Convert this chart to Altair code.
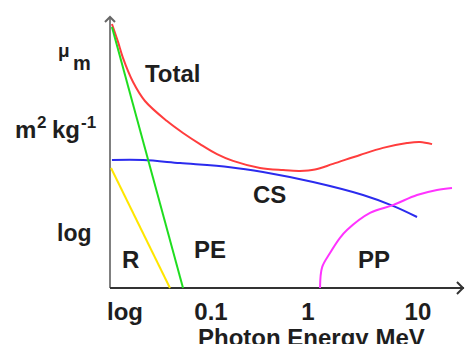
import altair as alt
import pandas as pd

# x: log10(photon energy / MeV); y: relative (log) mass attenuation, arbitrary units
total_x = [-1.981, -1.922, -1.874, -1.776, -1.660, -1.446, -1.290, -1.125, -0.960, -0.804,
           -0.542, -0.318, -0.153, -0.007, 0.168, 0.431, 0.654, 0.888, 1.014, 1.131]
total_y = [97.4, 90.8, 84.9, 76.0, 69.0, 61.6, 57.2, 53.1, 49.4, 46.9,
           44.3, 43.5, 43.2, 43.7, 45.8, 49.1, 51.7, 53.5, 53.9, 53.1]
cs_x = [-1.981, -1.679, -1.319, -0.833, -0.513, -0.026, 0.460, 0.751, 0.985]
cs_y = [47.2, 47.2, 46.1, 44.6, 42.8, 39.1, 34.3, 30.3, 26.2]
pe_x = [-1.981, -1.290]
pe_y = [96.3, 0.0]
r_x = [-1.990, -1.417]
r_y = [44.3, 0.0]
pp_x = [0.042, 0.0625, 0.139, 0.236, 0.304, 0.528, 0.751, 0.985, 1.179, 1.325]
pp_y = [0.0, 7.7, 12.9, 18.5, 21.4, 27.7, 30.6, 34.3, 36.2, 36.9]

series_names = ["Total", "CS", "PE", "R", "PP"]
series_colors = ["#ff3d3d", "#2b2bee", "#1fdd1f", "#ffe600", "#ff33ff"]

# curve labels
curve_labels = ["Total", "CS", "R", "PE", "PP"]
curve_label_x = [-1.660, -0.610, -1.883, -1.183, 0.411]
curve_label_y = [76.0, 31.4, 7.4, 11.1, 7.4]

# x tick labels
tick_labels = ["log", "0.1", "1", "10"]
tick_x = [-1.854, -1.018, -0.075, 0.994]
tick_y = [-11.8, -11.8, -11.8, -11.8]

# y axis label pieces (text, x, y, font size)
ylab_text = ["\u03bc", "m", "m", "2", "kg", "-1", "log"]
ylab_x = [-2.506, -2.360, -2.924, -2.710, -2.564, -2.282, -2.515]
ylab_y = [85.2, 80.4, 55.4, 59.0, 55.4, 59.0, 17.3]
ylab_size = [19, 20, 24, 17, 24, 17, 23]

x_title = "Photon Energy MeV"
x_title_pos = (-1.144, -21.4)

x_max = -2 + 354 / 102.857

rows = []
for name, xs, ys in [("Total", total_x, total_y), ("CS", cs_x, cs_y),
                     ("PE", pe_x, pe_y), ("R", r_x, r_y), ("PP", pp_x, pp_y)]:
    for i, (a, b) in enumerate(zip(xs, ys)):
        rows.append({"series": name, "x": a, "y": b, "i": i})
curves = pd.DataFrame(rows)

xs = alt.Scale(domain=[-2, x_max], nice=False, zero=False)
ys = alt.Scale(domain=[0, 100], nice=False, zero=False)
X = lambda f: alt.X(f, type="quantitative", scale=xs, axis=None)
Y = lambda f: alt.Y(f, type="quantitative", scale=ys, axis=None)

lines = alt.Chart(curves).mark_line(strokeWidth=2, interpolate="catmull-rom").encode(
    x=X("x"), y=Y("y"),
    color=alt.Color("series:N", scale=alt.Scale(domain=series_names, range=series_colors), legend=None),
    order="i:Q",
)

axes_df = pd.DataFrame({"x": [-2, -2], "x2": [-2, x_max], "y": [0, 0], "y2": [100, 0],
                        "c": ["#808080", "#333333"]})
axis_rules = alt.Chart(axes_df).mark_rule(strokeWidth=2).encode(
    x=X("x"), x2="x2", y=Y("y"), y2="y2", color=alt.Color("c:N", scale=None))

arrow_up = alt.Chart(pd.DataFrame({"x": [-2], "y": [100]})).mark_point(
    shape="M -1 1 L 0 0 L 1 1", size=100, filled=False, stroke="#666666", strokeWidth=2, opacity=1
).encode(x=X("x"), y=Y("y"))
arrow_right = alt.Chart(pd.DataFrame({"x": [x_max - 0.01], "y": [0]})).mark_point(
    shape="M -1 -1 L 0 0 L -1 1", size=144, filled=False, stroke="#333333", strokeWidth=2, opacity=1
).encode(x=X("x"), y=Y("y"))

font = dict(font="Liberation Sans", fontWeight="bold", color="#1e1e1e")

clabels = alt.Chart(pd.DataFrame({"t": curve_labels, "x": curve_label_x, "y": curve_label_y})).mark_text(
    align="left", baseline="alphabetic", fontSize=24, **font
).encode(x=X("x"), y=Y("y"), text="t:N")

ticks = alt.Chart(pd.DataFrame({"t": tick_labels, "x": tick_x, "y": tick_y})).mark_text(
    align="center", baseline="alphabetic", fontSize=24, **font
).encode(x=X("x"), y=Y("y"), text="t:N")

title = alt.Chart(pd.DataFrame({"t": [x_title], "x": [x_title_pos[0]], "y": [x_title_pos[1]]})).mark_text(
    align="left", baseline="alphabetic", fontSize=24, **font
).encode(x=X("x"), y=Y("y"), text="t:N")

ylabels = alt.Chart(pd.DataFrame({"t": ylab_text, "x": ylab_x, "y": ylab_y, "s": ylab_size})).mark_text(
    align="left", baseline="alphabetic", **font
).encode(x=X("x"), y=Y("y"), text="t:N", size=alt.Size("s:Q", scale=None))

chart = alt.layer(axis_rules, lines, arrow_up, arrow_right, clabels, ticks, title, ylabels).properties(
    width=354, height=271,
    autosize=alt.AutoSizeParams(type="none"),
    padding={"left": 102, "top": 9, "right": 1, "bottom": 56},
).configure_view(stroke=None)

chart.save("out.html", embed_options={"renderer": "svg", "actions": False})
